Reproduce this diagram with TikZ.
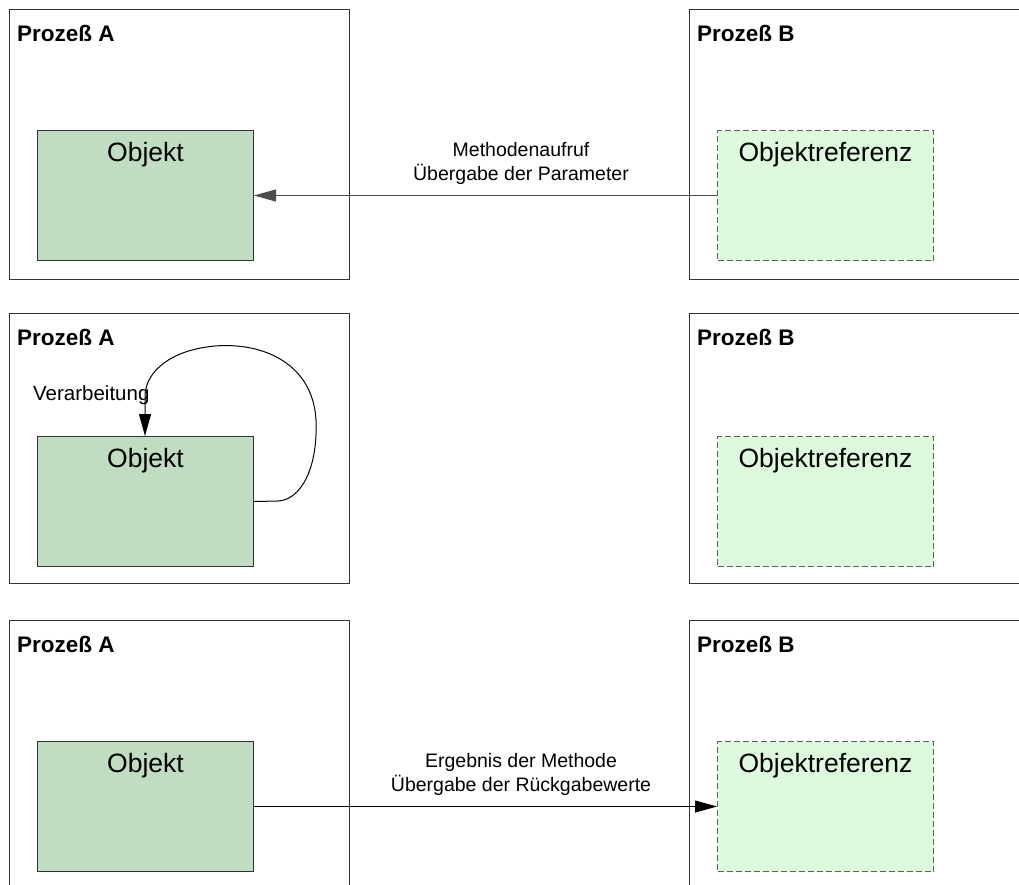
\documentclass[tikz,border=0pt]{standalone}
\usepackage{fontspec}
\setmainfont{Liberation Sans}
\usetikzlibrary{arrows.meta}
\definecolor{objfill}{HTML}{C1DDC1}
\definecolor{reffill}{HTML}{DDFADD}
\definecolor{refline}{HTML}{606060}
\definecolor{procline}{HTML}{333333}
\tikzset{
  proc/.style={draw=procline, line width=1pt, minimum width=340pt, minimum height=270pt,
               inner sep=0pt, anchor=north west},
  proctitle/.style={font=\fontsize{22.5}{26}\selectfont\bfseries, inner sep=0pt, anchor=base west},
  obj/.style={draw=black!80, line width=1pt, fill=objfill, minimum width=216pt, minimum height=130pt,
              inner sep=0pt, anchor=north west},
  objref/.style={draw=refline, dash pattern=on 6pt off 3pt, line width=1pt, fill=reffill,
                 minimum width=216pt, minimum height=130pt, inner sep=0pt, anchor=north west},
  boxtext/.style={font=\fontsize{26.5}{30}\selectfont, inner sep=0pt, anchor=north, yshift=-12.5pt},
  msg/.style={font=\fontsize{19.5}{24.5}\selectfont, align=center, inner sep=0pt, anchor=south},
  call/.style={line width=1pt, -{Triangle[length=22pt,width=12pt]}},
}
\begin{document}
\begin{tikzpicture}[x=1pt,y=-1pt]
  \useasboundingbox (0,0) rectangle (1019,884);
  \clip (0,0) rectangle (1019,884);

  % step 1: method call from the reference to the object
  \node[proc] (pa1) at (9,9) {};
  \node[proctitle] (ta1) at (17,41) {Prozeß A};
  \node[obj] (o1) at (37,130) {};
  \node[boxtext] (lo1) at (o1.north) {Objekt};
  \node[proc] (pb1) at (689,9) {};
  \node[proctitle] (tb1) at (697,41) {Prozeß B};
  \node[objref] (r1) at (717,130) {};
  \node[boxtext] (lr1) at (r1.north) {Objektreferenz};
  \draw[call, draw=black!70] (r1.west) -- (o1.east);
  \node[msg] (m1) at (521,185) {Methodenaufruf\\Übergabe der Parameter};

  % step 2: processing inside process A
  \node[proc] (pa2) at (9,313) {};
  \node[proctitle] (ta2) at (17,345) {Prozeß A};
  \node[obj] (o2) at (37,436) {};
  \node[boxtext] (lo2) at (o2.north) {Objekt};
  \node[proc] (pb2) at (689,313) {};
  \node[proctitle] (tb2) at (697,345) {Prozeß B};
  \node[objref] (r2) at (717,436) {};
  \node[boxtext] (lr2) at (r2.north) {Objektreferenz};
  \coordinate (loopin) at (145,436);
  \draw[call] (o2.east) -- (278,501)
    .. controls (300,500) and (318,470) .. (316,420)
    .. controls (313,365) and (265,342) .. (215,346)
    .. controls (170,350) and (146,372) .. (145,395)
    -- (loopin);
  \node[font=\fontsize{20.5}{24}\selectfont, inner sep=0pt, anchor=base west] (m2) at (33,400) {Verarbeitung};

  % step 3: result returned to the reference
  \node[proc] (pa3) at (9,620) {};
  \node[proctitle] (ta3) at (17,652) {Prozeß A};
  \node[obj] (o3) at (37,741) {};
  \node[boxtext] (lo3) at (o3.north) {Objekt};
  \node[proc] (pb3) at (689,620) {};
  \node[proctitle] (tb3) at (697,652) {Prozeß B};
  \node[objref] (r3) at (717,741) {};
  \node[boxtext] (lr3) at (r3.north) {Objektreferenz};
  \draw[call] (o3.east) -- (r3.west);
  \node[msg] (m3) at (521,796) {Ergebnis der Methode\\Übergabe der Rückgabewerte};
\end{tikzpicture}
\end{document}
